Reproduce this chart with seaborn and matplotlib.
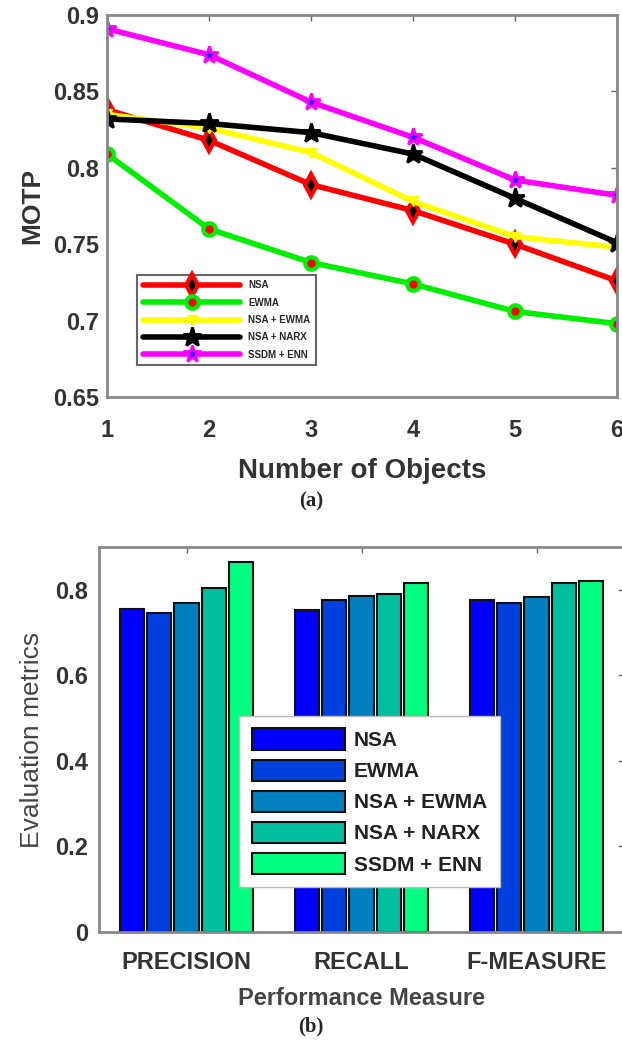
import matplotlib
matplotlib.use("Agg")
import matplotlib.pyplot as plt
import seaborn as sns
import pandas as pd

# ---------------- data ----------------
objects = [1, 2, 3, 4, 5, 6]
motp_nsa = [0.838, 0.818, 0.789, 0.772, 0.750, 0.726]
motp_ewma = [0.809, 0.760, 0.738, 0.724, 0.706, 0.698]
motp_nsa_ewma = [0.835, 0.826, 0.810, 0.778, 0.755, 0.748]
motp_nsa_narx = [0.832, 0.829, 0.823, 0.809, 0.780, 0.751]
motp_ssdm_enn = [0.891, 0.874, 0.843, 0.820, 0.792, 0.782]

methods = ["NSA", "EWMA", "NSA + EWMA", "NSA + NARX", "SSDM + ENN"]
measures = ["PRECISION", "RECALL", "F-MEASURE"]
precision = [0.755, 0.746, 0.769, 0.803, 0.865]
recall = [0.752, 0.777, 0.786, 0.790, 0.816]
fmeasure = [0.775, 0.769, 0.782, 0.816, 0.820]

yticks_a = [0.65, 0.7, 0.75, 0.8, 0.85, 0.9]
yticklabels_a = ["0.65", "0.7", "0.75", "0.8", "0.85", "0.9"]
yticks_b = [0, 0.2, 0.4, 0.6, 0.8]
yticklabels_b = ["0", "0.2", "0.4", "0.6", "0.8"]

# ---------------- style ----------------
sns.set_style("white")
plt.rcParams["font.family"] = ["Liberation Sans", "DejaVu Sans"]

fig = plt.figure(figsize=(6.22, 10.41), dpi=100)

# ---------------- panel (a) ----------------
ax1 = fig.add_axes([107 / 622, 1 - 397 / 1041, 510 / 622, 382 / 1041])

line_specs = [
    (motp_nsa, methods[0], dict(color="#ff0000", marker="d", ms=11, mfc="#000000", mec="#ff0000", mew=3)),
    (motp_ewma, methods[1], dict(color="#00ee00", marker="o", ms=9, mfc="#ff0000", mec="#00ee00", mew=3)),
    (motp_nsa_ewma, methods[2], dict(color="#ffff00", marker="v", ms=7, mfc="#ffff00", mec="#ffff00", mew=1)),
    (motp_nsa_narx, methods[3], dict(color="#000000", marker="*", ms=14, mfc="#000000", mec="#000000", mew=2)),
    (motp_ssdm_enn, methods[4], dict(color="#ff00ff", marker="*", ms=13, mfc="#2020ff", mec="#ff00ff", mew=2)),
]
for vals, name, kw in line_specs:
    sns.lineplot(x=objects, y=vals, ax=ax1, label=name, lw=4, **kw)

ax1.set_xlim(1, 6)
ax1.set_ylim(0.65, 0.9)
ax1.set_xticks(objects)
ax1.set_xticklabels([str(o) for o in objects], fontsize=17, fontweight="bold")
ax1.set_yticks(yticks_a)
ax1.set_yticklabels(yticklabels_a, fontsize=17, fontweight="bold")
ax1.set_xlabel("Number of Objects", fontsize=20, fontweight="bold", color="#333333", labelpad=11)
ax1.set_ylabel("MOTP", fontsize=19, fontweight="bold", color="#333333", labelpad=6)
ax1.tick_params(axis="y", direction="in", length=4, width=1, right=True, colors="#666666",
                labelcolor="#333333", pad=6)
ax1.tick_params(axis="x", direction="in", length=4, width=1, top=True, colors="#666666",
                labelcolor="#333333", pad=16)
for sp in ax1.spines.values():
    sp.set_color("#888888")
    sp.set_linewidth(2)
leg1 = ax1.legend(loc="lower left", bbox_to_anchor=(0.05, 0.07), handlelength=10,
                  frameon=True, fancybox=False, edgecolor="#666666", labelspacing=0.75,
                  borderpad=0.6, framealpha=1, prop={"weight": "bold", "size": 7})
leg1.get_frame().set_linewidth(1.5)

fig.text(0.5, 1 - 501 / 1041, "(a)", ha="center", va="center", fontsize=15, fontweight="bold",
         family=["Liberation Serif", "DejaVu Serif"])

# ---------------- panel (b) ----------------
ax2 = fig.add_axes([99 / 622, 1 - 932 / 1041, 525 / 622, 385 / 1041])

rows = []
for m, v in zip(measures, [precision, recall, fmeasure]):
    for meth, val in zip(methods, v):
        rows.append({"measure": m, "method": meth, "value": val})
df = pd.DataFrame(rows)

winter = [(0.0, 0.0, 1.0), (0.0, 0.25, 0.875), (0.0, 0.5, 0.75), (0.0, 0.75, 0.625), (0.0, 1.0, 0.5)]
sns.barplot(data=df, x="measure", y="value", hue="method", hue_order=methods, order=measures,
            palette=winter, saturation=1, edgecolor="#111111", linewidth=1.5, width=0.78, gap=0.1,
            ax=ax2)

ax2.set_xlim(-0.5, 2.5)
ax2.set_ylim(0, 0.9)
ax2.set_yticks(yticks_b)
ax2.set_yticklabels(yticklabels_b, fontsize=17, fontweight="bold")
ax2.set_xticks(range(len(measures)))
ax2.set_xticklabels(measures, fontsize=17, fontweight="bold")
ax2.set_xlabel("Performance Measure", fontsize=17, fontweight="bold", color="#444444", labelpad=9)
ax2.set_ylabel("Evaluation metrics", fontsize=19, color="#444444", labelpad=8)
ax2.tick_params(axis="y", direction="in", length=4, width=1, right=True, colors="#666666",
                labelcolor="#333333", pad=8)
ax2.tick_params(axis="x", direction="in", length=4, width=1, top=True, colors="#666666",
                labelcolor="#333333", pad=14)
for sp in ax2.spines.values():
    sp.set_color("#888888")
    sp.set_linewidth(2)

leg2 = ax2.legend(loc="center", bbox_to_anchor=(0.515, 0.339), handlelength=4.5,
                  handleheight=1.2, frameon=True, fancybox=False, edgecolor="#bbbbbb",
                  labelspacing=0.45, borderpad=0.6, handletextpad=0.4, framealpha=1,
                  prop={"weight": "bold", "size": 15})
leg2.get_frame().set_linewidth(1.0)
for t in leg2.get_texts():
    t.set_color("#222222")

fig.text(0.5, 1 - 1026 / 1041, "(b)", ha="center", va="center", fontsize=15, fontweight="bold",
         family=["Liberation Serif", "DejaVu Serif"])

fig.savefig("out.png", dpi=100, facecolor="white")
